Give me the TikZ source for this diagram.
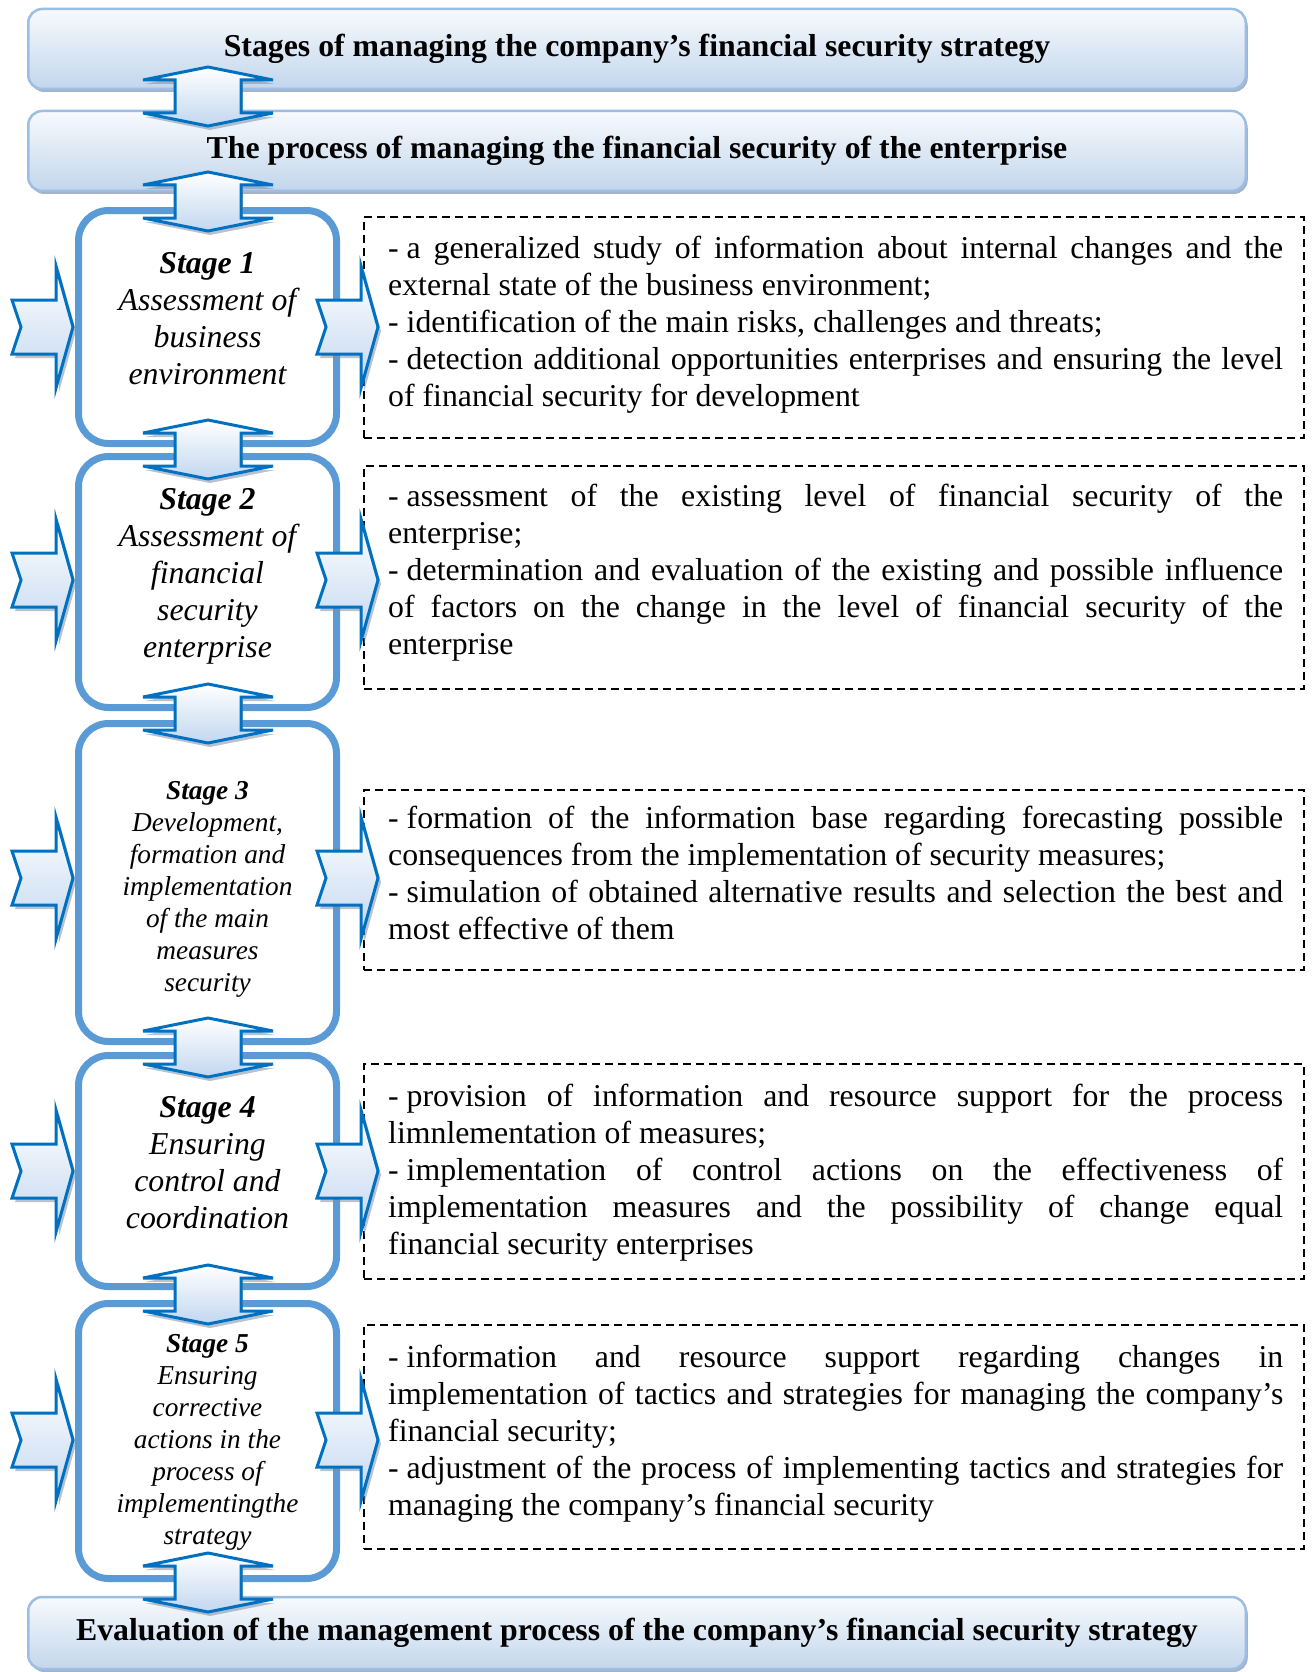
\documentclass[tikz,border=0pt]{standalone}
\usepackage{fontspec}
\setmainfont{Liberation Serif}
\usetikzlibrary{shadows}

\definecolor{bannerTop}{HTML}{F7FAFD}
\definecolor{bannerBot}{HTML}{C3D6EC}
\definecolor{bannerEdge}{HTML}{9DBDE2}
\definecolor{bannerShade}{HTML}{7E93B0}
\definecolor{stageEdge}{HTML}{5B9BD5}
\definecolor{arrowEdge}{HTML}{0070C0}
\definecolor{arrowBot}{HTML}{C2D7F0}
\definecolor{arrowShade}{HTML}{7F8FA6}

\newcommand{\bigtext}{\fontsize{31.8}{37}\selectfont}
\newcommand{\smalltext}{\fontsize{27.3}{32}\selectfont}
% list dash followed by a fixed (non-stretching) gap
\newcommand{\itemdash}{-\hspace{0.25em}\ignorespaces}

\setlength{\parindent}{0pt}
\tolerance=10000
\hbadness=10000
\hyphenpenalty=10000
\exhyphenpenalty=10000

\tikzset{
  banner/.style={draw=bannerEdge, line width=2.5, rounded corners=14,
    top color=bannerTop, bottom color=bannerBot, minimum width=1217.5,
    inner sep=0, font=\bigtext\bfseries, text height=22, text depth=7,
    drop shadow={shadow xshift=2pt, shadow yshift=-3pt, fill=bannerShade, opacity=0.7}},
  stagebox/.style={draw=stageEdge, line width=7, rounded corners=30,
    fill=white, minimum width=258, inner sep=0},
  stagetext/.style={anchor=north, align=center, inner sep=0, font=\bigtext\itshape},
  stagetextsmall/.style={anchor=north, align=center, inner sep=0, font=\smalltext\itshape},
  notebox/.style={draw=black, line width=1.8, dash pattern=on 8pt off 5pt,
    minimum width=940, inner sep=0},
  notetext/.style={anchor=north west, inner sep=0, text width=895,
    align=justify, font=\bigtext},
  blockarrow/.style={draw=arrowEdge, line width=3, top color=white,
    bottom color=arrowBot, line join=miter},
  arrowshadow/.style={fill=arrowShade, opacity=0.55},
  pics/updown/.style={code={
    \path[arrowshadow, shift={(2,4)}]
      (0,-29.5) -- (65,-16.5) -- (33,-16.5) -- (33,16.5) -- (65,16.5) -- (0,29.5)
      -- (-65,16.5) -- (-33,16.5) -- (-33,-16.5) -- (-65,-16.5) -- cycle;
    \path[blockarrow]
      (0,-29.5) -- (65,-16.5) -- (33,-16.5) -- (33,16.5) -- (65,16.5) -- (0,29.5)
      -- (-65,16.5) -- (-33,16.5) -- (-33,-16.5) -- (-65,-16.5) -- cycle;
  }},
  pics/sidearrow/.style={code={
    \path[arrowshadow, shift={(3,4)}]
      (0,-27) -- (44,-27) -- (44,-61) -- (61,0) -- (44,61) -- (44,27) -- (0,27) -- (9,0) -- cycle;
    \path[blockarrow]
      (0,-27) -- (44,-27) -- (44,-61) -- (61,0) -- (44,61) -- (44,27) -- (0,27) -- (9,0) -- cycle;
  }}
}

\begin{document}
\begin{tikzpicture}[x=1pt, y=-1pt]
\useasboundingbox (0,0) rectangle (1311,1672);
\clip (0,0) rectangle (1311,1672);

% headline banners
\node[banner, minimum height=80] (top) at (637,49)
  {Stages of managing the company’s financial security strategy};
\node[banner, minimum height=80] (proc) at (637,151)
  {The process of managing the financial security of the enterprise};
\node[banner, minimum height=72] (eval) at (637,1633)
  {Evaluation of the management process of the company’s financial security strategy};

% stage frames
\node[stagebox, minimum height=233] (s1) at (207.5,327) {};
\node[stagebox, minimum height=251] (s2) at (207.5,582) {};
\node[stagebox, minimum height=318] (s3) at (207.5,882.5) {};
\node[stagebox, minimum height=231] (s4) at (207.5,1171) {};
\node[stagebox, minimum height=275] (s5) at (207.5,1441) {};

% stage captions
\node[stagetext] (s1t) at (207.5,252.5)
  {{\bfseries Stage 1}\\Assessment of\\business\\environment};
\node[stagetext] (s2t) at (207.5,488.5)
  {{\bfseries Stage 2}\\Assessment of\\financial\\security\\enterprise};
\node[stagetextsmall] (s3t) at (207.5,781.5)
  {{\bfseries Stage 3}\\Development,\\formation and\\implementation\\of the main\\measures\\security};
\node[stagetext] (s4t) at (207.5,1096.5)
  {{\bfseries Stage 4}\\Ensuring\\control and\\coordination};
\node[stagetextsmall] (s5t) at (207.5,1334.5)
  {{\bfseries Stage 5}\\Ensuring\\corrective\\actions in the\\process of\\implementingthe\\strategy};

% dashed task frames
\node[notebox, minimum height=221] (d1) at (834,327.5) {};
\node[notebox, minimum height=223] (d2) at (834,577.5) {};
\node[notebox, minimum height=180] (d3) at (834,880) {};
\node[notebox, minimum height=215] (d4) at (834,1171.5) {};
\node[notebox, minimum height=224] (d5) at (834,1437) {};

\node[notetext] (d1t) at (388,236.3) {%
\itemdash a generalized study of information about internal changes and the\linebreak
external state of the business environment;\par
\itemdash identification of the main risks, challenges and threats;\par
\itemdash detection additional opportunities enterprises and ensuring the level\linebreak
of financial security for development};

\node[notetext] (d2t) at (388,484.3) {%
\itemdash assessment of the existing level of financial security of the\linebreak
enterprise;\par
\itemdash determination and evaluation of the existing and possible influence\linebreak
of factors on the change in the level of financial security of the\linebreak
enterprise};

\node[notetext] (d3t) at (388,806.3) {%
\itemdash formation of the information base regarding forecasting possible\linebreak
consequences from the implementation of security measures;\par
\itemdash simulation of obtained alternative results and selection the best and\linebreak
most effective of them};

\node[notetext] (d4t) at (388,1084.3) {%
\itemdash provision of information and resource support for the process\linebreak
limnlementation of measures;\par
\itemdash implementation of control actions on the effectiveness of\linebreak
implementation measures and the possibility of change equal\linebreak
financial security enterprises};

\node[notetext] (d5t) at (388,1345.3) {%
\itemdash information and resource support regarding changes in\linebreak
implementation of tactics and strategies for managing the company’s\linebreak
financial security;\par
\itemdash adjustment of the process of implementing tactics and strategies for\linebreak
managing the company’s financial security};

% incoming and outgoing arrows of each stage
\foreach \yy in {327,580,878,1171,1440} {
  \pic at (12,\yy) {sidearrow};
  \pic at (317,\yy) {sidearrow};
}

% two-way arrows along the chain
\foreach \yy in {96.5,201.5,449.5,713.5,1047.5,1294.5,1582.5} {
  \pic at (208,\yy) {updown};
}
\end{tikzpicture}
\end{document}
